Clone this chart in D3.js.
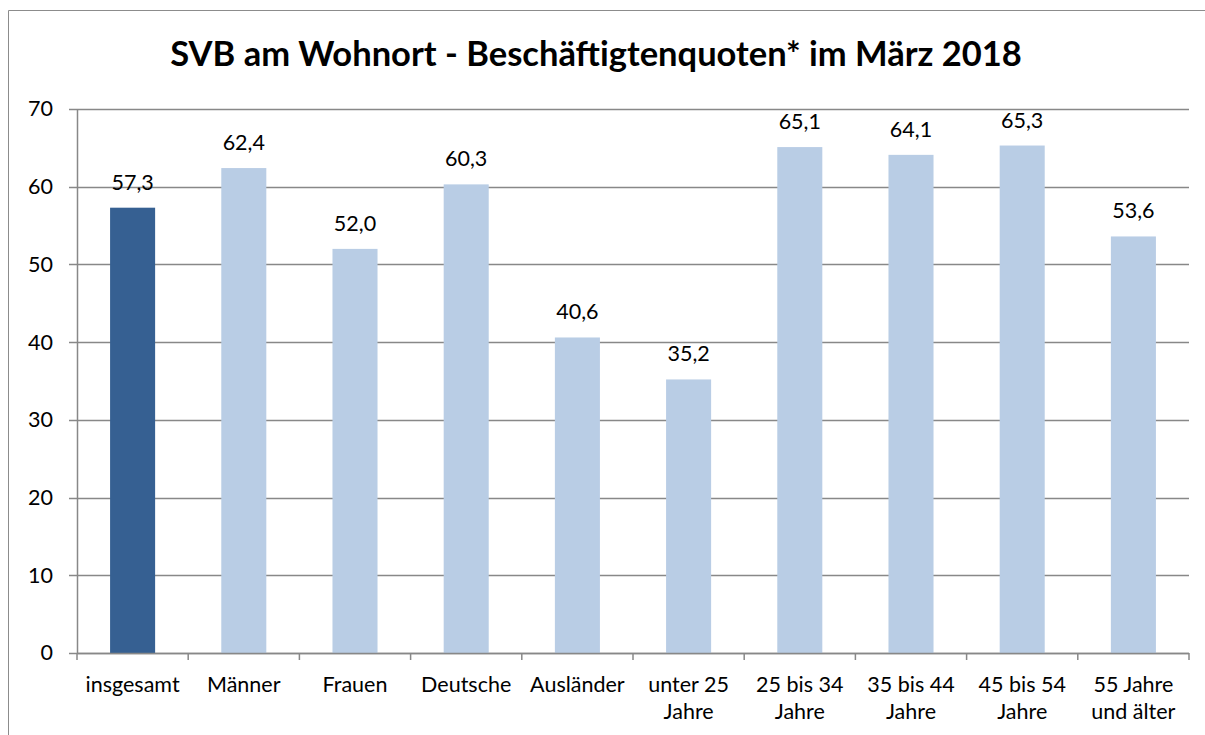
<!DOCTYPE html>
<html><head><meta charset="utf-8">
<script src="https://cdn.jsdelivr.net/npm/d3@7"></script>
<style>body{margin:0;background:#fff;overflow:hidden}svg{display:block}text{font-family:Lato,"Open Sans",sans-serif;fill:#000}</style>
</head><body>
<script>
const categories = [["insgesamt"],["Männer"],["Frauen"],["Deutsche"],["Ausländer"],["unter 25","Jahre"],["25 bis 34","Jahre"],["35 bis 44","Jahre"],["45 bis 54","Jahre"],["55 Jahre","und älter"]];
const values = [57.3,62.4,52.0,60.3,40.6,35.2,65.1,64.1,65.3,53.6];
const yTicks = [0,10,20,30,40,50,60,70];
const title = "SVB am Wohnort - Beschäftigtenquoten* im März 2018";

const W=1205,H=735;
const svg=d3.select("body").append("svg").attr("width",W).attr("height",H);
svg.append("path").attr("d","M8.5,735V10.5H1205").attr("fill","none").attr("stroke","#8c8c8c");

const x=d3.scaleBand().domain(d3.range(categories.length)).range([77,1189]).paddingInner(0.595).paddingOuter(0.2975);
const y=d3.scaleLinear().domain([0,70]).range([653,109]);

svg.append("text").attr("x",596).attr("y",66).attr("text-anchor","middle").style("font-weight","bold").style("font-size","34.5px").text(title);

const grid=svg.append("g");
yTicks.forEach(t=>{
  grid.append("line").attr("x1",69).attr("x2",1189).attr("y1",Math.round(y(t))+0.5).attr("y2",Math.round(y(t))+0.5).attr("stroke","#888").attr("stroke-width",1.5);
});
const ya=svg.append("g").attr("transform","translate(77,0)").call(d3.axisLeft(y).tickValues(yTicks).tickSize(0).tickPadding(24));
ya.select(".domain").attr("stroke","#888").attr("stroke-width",1.5);
ya.selectAll("text").style("font-size","21.5px").style("font-family","Lato");

svg.selectAll("rect.bar").data(values).enter().append("rect").attr("class","bar")
  .attr("x",(d,i)=>x(i)).attr("width",x.bandwidth()).attr("y",d=>y(d)).attr("height",d=>y(0)-y(d))
  .attr("fill",(d,i)=>i===0?"#366092":"#b9cde5");

svg.selectAll("text.val").data(values).enter().append("text").attr("class","val")
  .attr("x",(d,i)=>x(i)+x.bandwidth()/2).attr("y",d=>y(d)-18).attr("text-anchor","middle").style("font-size","21.5px")
  .text(d=>d3.format(".1f")(d).replace(".",","));

// x axis
const step=x.step();
const xa=svg.append("g");
xa.append("line").attr("x1",77).attr("x2",1189).attr("y1",653.5).attr("y2",653.5).attr("stroke","#888").attr("stroke-width",1.5);
d3.range(categories.length+1).forEach(i=>{
  const xx=77+i*step;
  xa.append("line").attr("x1",xx).attr("x2",xx).attr("y1",653).attr("y2",660).attr("stroke","#888").attr("stroke-width",1.5);
});
categories.forEach((c,i)=>{
  const t=xa.append("text").attr("text-anchor","middle").style("font-size","21.5px");
  c.forEach((ln,j)=>t.append("tspan").attr("x",x(i)+x.bandwidth()/2).attr("y",692+j*27).text(ln));
});
</script>
</body></html>
